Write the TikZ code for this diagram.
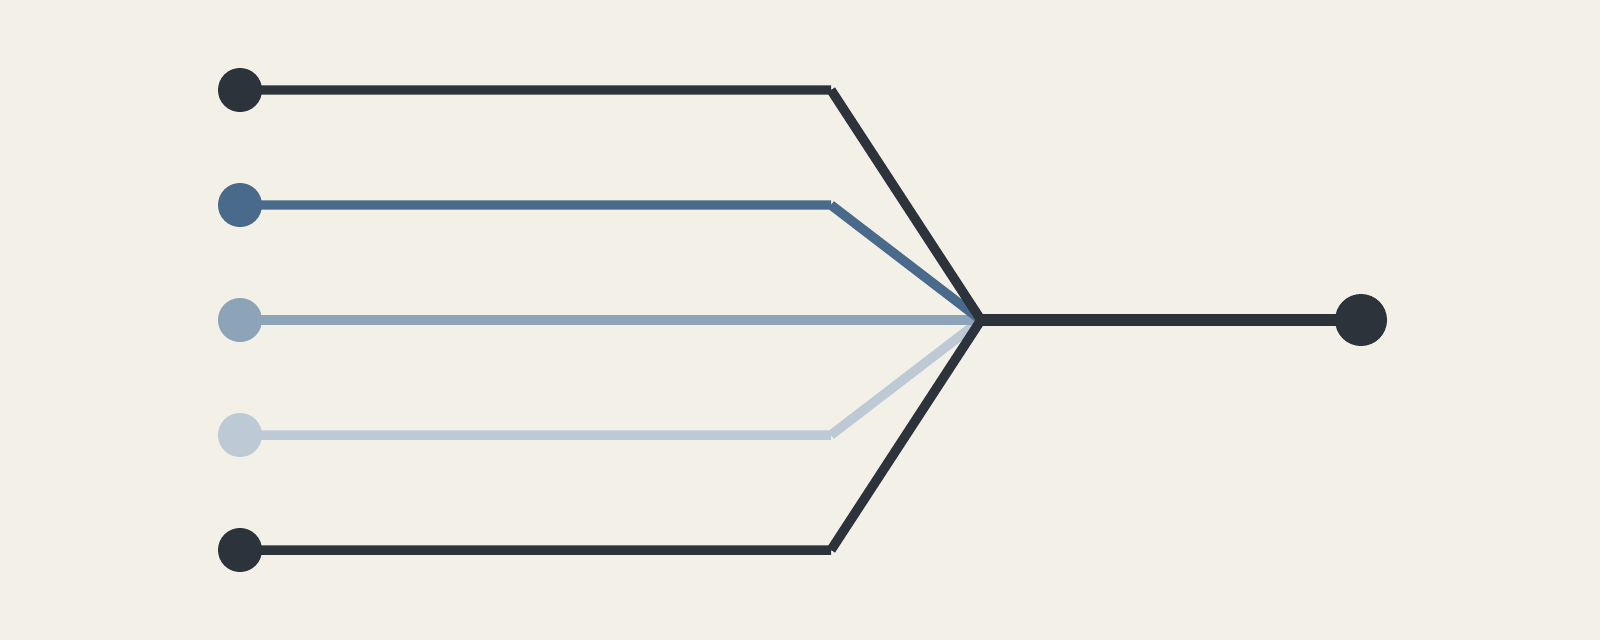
\documentclass[tikz,border=0pt]{standalone}
\usepackage{xcolor}
\usepackage{tikz}
\usetikzlibrary{backgrounds}
\definecolor{paper}{HTML}{F3F0E8}
\definecolor{ink}{HTML}{2C333B}
\definecolor{steel}{HTML}{4A6A8B}
\definecolor{mist}{HTML}{8DA3B7}
\definecolor{haze}{HTML}{BDCAD6}
\tikzset{
  wire/.style={line width=2.7pt, line cap=butt},
  trunk/.style={draw=ink, line width=3.3pt, line cap=butt},
  src/.style={circle, inner sep=0pt, minimum size=0.44cm},
  sink/.style={circle, fill=ink, inner sep=0pt, minimum size=0.52cm},
}
\begin{document}
\begin{tikzpicture}
  \begin{scope}[on background layer]
    \fill[paper] (0,0) rectangle (16,6.4);
  \end{scope}
  \useasboundingbox (0,0) rectangle (16,6.4);

  \coordinate (M) at (9.81,3.2);
  \node[sink] (out) at (13.61,3.2) {};

  \coordinate (k1) at (8.31,5.5);
  \coordinate (k2) at (8.31,4.35);
  \coordinate (k4) at (8.31,2.05);
  \coordinate (k5) at (8.31,0.9);

  \node[src,fill=ink]   (s1) at (2.4,5.5)  {};
  \node[src,fill=steel] (s2) at (2.4,4.35) {};
  \node[src,fill=mist]  (s3) at (2.4,3.2)  {};
  \node[src,fill=haze]  (s4) at (2.4,2.05) {};
  \node[src,fill=ink]   (s5) at (2.4,0.9)  {};

  % wires go behind the dots
  \begin{scope}[on background layer]
    \draw[wire,draw=haze] (s4.center) -- (k4) (k4) -- (M);
    \draw[wire,draw=mist] (s3.center) -- (M);
    \draw[wire,draw=steel] (s2.center) -- (k2) (k2) -- (M);
    \draw[wire,draw=ink] (s1.center) -- (k1) (k1) -- (M);
    \draw[wire,draw=ink] (s5.center) -- (k5) (k5) -- (M);
    \draw[trunk] (M) -- (out.center);
  \end{scope}
\end{tikzpicture}
\end{document}
